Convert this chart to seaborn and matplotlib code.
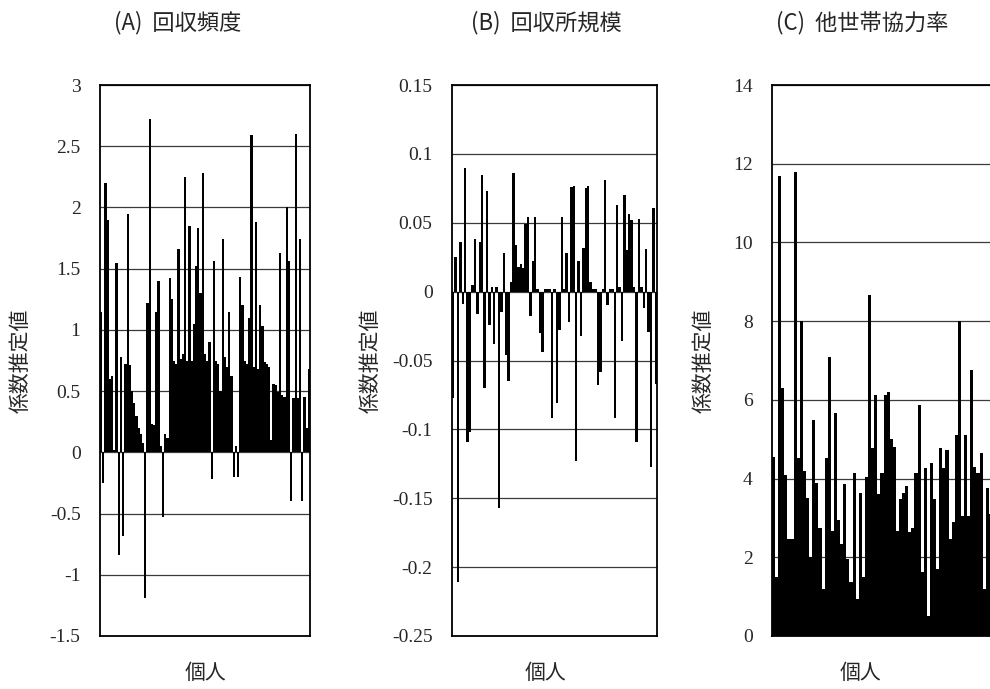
import numpy as np
import pandas as pd
import matplotlib
matplotlib.use('Agg')
import matplotlib.pyplot as plt
import seaborn as sns

# coefficient estimates per individual left to right
a_vals = [1.15, -0.25, 2.2, 1.9, 0.6, 0.62, 0.02, 1.55, -0.84, 0.78,
          -0.68, 0.72, 1.95, 0.71, 0.5, 0.4, 0.3, 0.2, 0.15, 0.08,
          -1.19, 1.22, 2.72, 0.23, 0.22, 1.15, 1.4, 0.05, -0.53, 0.15,
          0.12, 1.42, 1.25, 0.75, 0.72, 1.66, 0.76, 0.8, 2.25, 0.75,
          1.85, 0.75, 1.05, 1.52, 1.83, 1.3, 2.28, 0.8, 0.75, 0.9,
          -0.22, 1.56, 0.75, 0.72, 0.5, 1.74, 0.78, 0.7, 1.15, 0.62,
          -0.2, 0.05, -0.2, 1.43, 1.2, 0.75, 0.72, 1.1, 2.59, 0.7,
          1.88, 0.68, 1.2, 1.03, 0.74, 0.72, 0.7, 0.1, 0.56, 0.55,
          0.49, 1.63, 0.47, 0.45, 2.0, 1.56, -0.4, 0.44, 2.6, 0.44,
          1.74, -0.4, 0.45, 0.2, 0.68]

b_vals = [-0.077, 0.025, -0.211, 0.036, -0.009, 0.09, -0.109, -0.102, 0.005, 0.038,
          -0.016, 0.036, 0.085, -0.07, 0.073, -0.024, 0.003, -0.038, 0.003, -0.157,
          -0.015, 0.028, -0.046, -0.065, 0.007, 0.086, 0.034, 0.018, 0.02, 0.017,
          0.049, 0.054, -0.018, 0.022, 0.054, 0.002, -0.03, -0.044, 0.002, 0.002,
          0.002, -0.092, 0.002, -0.081, -0.028, 0.054, 0.002, 0.028, -0.022, 0.076,
          0.077, -0.123, 0.022, -0.032, 0.032, 0.075, 0.077, 0.007, 0.002, 0.002,
          -0.068, -0.058, 0.002, 0.081, -0.01, 0.002, 0.002, -0.092, 0.063, 0.003,
          -0.036, 0.07, 0.03, 0.056, 0.052, 0.003, -0.109, 0.053, 0.003, -0.012,
          0.031, -0.029, -0.127, 0.061, -0.067]

c_vals = [4.56, 1.5, 11.7, 6.3, 4.1, 2.46, 2.46, 11.8, 4.53, 8.0,
          4.2, 3.5, 2.0, 5.5, 3.9, 2.75, 1.2, 4.53, 7.1, 2.66,
          5.67, 2.96, 2.33, 3.85, 1.95, 1.37, 4.15, 0.94, 3.64, 1.5,
          4.05, 8.66, 4.78, 6.13, 3.6, 4.15, 6.13, 6.2, 5.0, 4.8,
          2.66, 3.47, 3.64, 3.8, 2.63, 2.75, 4.15, 5.87, 1.62, 4.28,
          0.5, 4.4, 3.47, 1.7, 4.78, 4.28, 4.73, 2.46, 2.89, 5.1,
          8.0, 3.04, 5.1, 3.04, 6.76, 4.3, 4.15, 4.66, 1.2, 3.77,
          3.09, 3.93]

titles = ['(A)  回収頻度', '(B)  回収所規模', '(C)  他世帯協力率']

a_ticks = [-1.5, -1, -0.5, 0, 0.5, 1, 1.5, 2, 2.5, 3]
a_labels = ['-1.5', '-1', '-0.5', '0', '0.5', '1', '1.5', '2', '2.5', '3']
b_ticks = [-0.25, -0.2, -0.15, -0.1, -0.05, 0, 0.05, 0.1, 0.15]
b_labels = ['-0.25', '-0.2', '-0.15', '-0.1', '-0.05', '0', '0.05', '0.1', '0.15']
c_ticks = [0, 2, 4, 6, 8, 10, 12, 14]
c_labels = ['0', '2', '4', '6', '8', '10', '12', '14']

sns.set_style('white')
plt.rcParams['font.family'] = ['Noto Sans CJK JP', 'DejaVu Sans']

fig = plt.figure(figsize=(9.9, 6.89), dpi=100)
W, H = 990, 689

# panel boxes in pixels: left, right, x of ylabel centre, x of xlabel, x of title
panels = [
    (a_vals, a_ticks, a_labels, 100, 310, 22, 205, 178),
    (b_vals, b_ticks, b_labels, 452, 657, 372, 545, 546),
    (c_vals, c_ticks, c_labels, 772, 995, 705, 860, 862),
]
top_px, bot_px = 85, 636

for vals, ticks, labels, l, r, ylx, xlx, tx in panels:
    ax = fig.add_axes([l / W, 1 - bot_px / H, (r - l) / W, (bot_px - top_px) / H])
    df = pd.DataFrame({'person': np.arange(len(vals)), 'coef': vals})
    sns.barplot(data=df, x='person', y='coef', color='black', saturation=1,
                width=1.0, linewidth=0, ax=ax, zorder=3)
    ax.set_xlim(-0.5, len(vals) - 0.5)
    ax.set_ylim(ticks[0], ticks[-1])
    ax.set_yticks(ticks)
    ax.set_yticklabels(labels, fontfamily='Liberation Serif', fontsize=14)
    ax.set_xticks([])
    ax.tick_params(axis='y', length=0, pad=14)
    for t in ticks:
        ax.axhline(t, color='#3a3a3a', lw=0.9, zorder=1)
    for s in ax.spines.values():
        s.set_visible(True)
        s.set_color('black')
        s.set_linewidth(1.3)
    ax.set_ylabel('係数推定値', fontsize=15)
    # label anchor is its right edge, so shift by half the text height
    ax.yaxis.set_label_coords((ylx + 10 - l) / (r - l), 0.5)
    ax.set_xlabel('個人', fontsize=15)
    ax.xaxis.set_label_coords((xlx - l) / (r - l), -(662 - bot_px) / (bot_px - top_px))

for title, p in zip(titles, panels):
    fig.text(p[7] / W, 1 - 23 / H, title, ha='center', va='center', fontsize=16)

fig.savefig('out.png', dpi=100)
